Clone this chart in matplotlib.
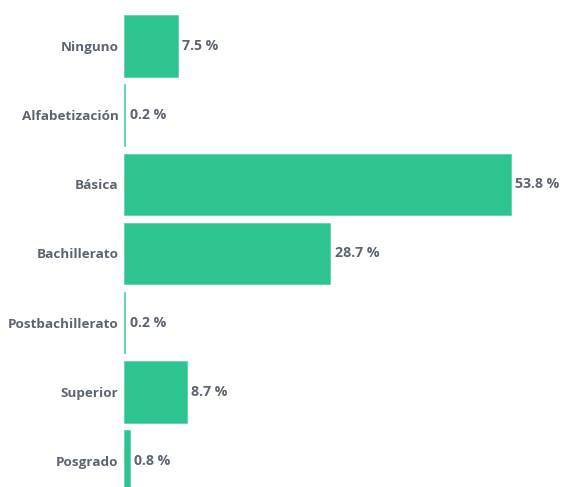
import matplotlib
matplotlib.use("Agg")
import matplotlib.pyplot as plt

categories = ["Ninguno", "Alfabetización", "Básica", "Bachillerato",
              "Postbachillerato", "Superior", "Posgrado"]
values = [7.5, 0.2, 53.8, 28.7, 0.2, 8.7, 0.8]
value_labels = ["7.5 %", "0.2 %", "53.8 %", "28.7 %", "0.2 %", "8.7 %", "0.8 %"]

bar_color = "#2dc48f"
text_color = "#5d6470"

fig = plt.figure(figsize=(5.61, 4.87), dpi=100)
ax = fig.add_axes([124/561, 0, 437/561, 1])

y = list(range(len(categories)))
ax.barh(y, values, height=0.89, color=bar_color, edgecolor="#5fd3a9", linewidth=0.6)
ax.set_xlim(0, 437/7.193)
ax.set_ylim(6 + 26/69.2, -46/69.2)

for yi, v, lab in zip(y, values, value_labels):
    ax.text(v + 0.6, yi, lab, va="center", ha="left", fontsize=10.2,
            fontweight="bold", color=text_color, family="Open Sans")

ax.set_yticks(y)
ax.set_yticklabels(categories, fontsize=9.7, fontweight="bold", color=text_color,
                   family="Open Sans")
ax.tick_params(axis="y", length=0, pad=4)
ax.set_xticks([])
for s in ax.spines.values():
    s.set_visible(False)

fig.savefig("out.png", dpi=100)
